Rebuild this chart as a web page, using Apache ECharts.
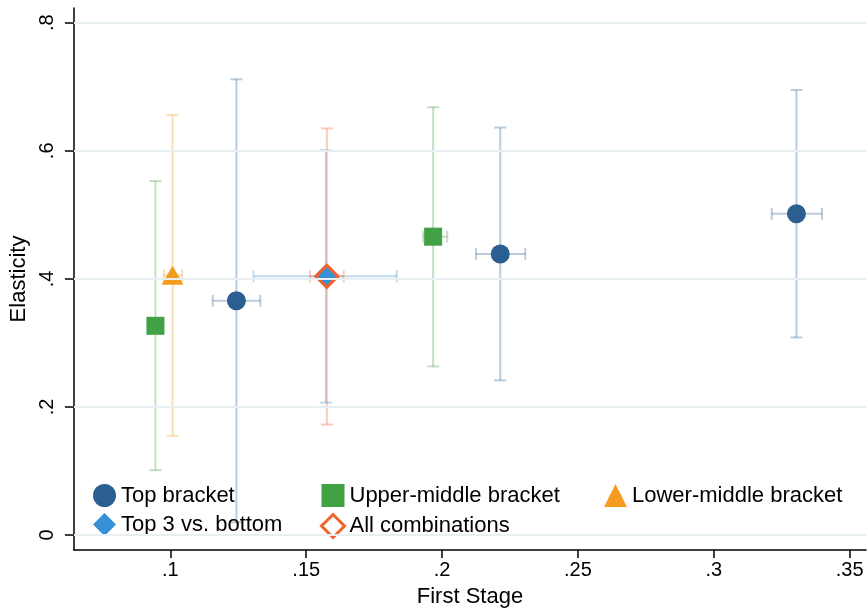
<!DOCTYPE html>
<html>
<head>
<meta charset="utf-8">
<title>Elasticity vs First Stage</title>
<script src="https://cdn.jsdelivr.net/npm/echarts@6/dist/echarts.min.js"></script>
<style>
  html, body { margin: 0; padding: 0; background: #fff; }
  #chart { width: 868px; height: 613px; }
</style>
</head>
<body>
<div id="chart"></div>
<script>
// each row: [firstStage, elasticity, xLow, xHigh, yLow, yHigh]
const topBracket = [
  [0.1243, 0.3657, 0.1156, 0.1331, 0.020, 0.7116],
  [0.2214, 0.4389, 0.2125, 0.2306, 0.2415, 0.6363],
  [0.3304, 0.5017, 0.3213, 0.3398, 0.3085, 0.6950]
];
const upperMiddle = [
  [0.0945, 0.3267, 0.0935, 0.0955, 0.1013, 0.5527],
  [0.1967, 0.4659, 0.1930, 0.2019, 0.2633, 0.6680]
];
const lowerMiddle = [
  [0.1008, 0.4055, 0.0976, 0.1043, 0.1549, 0.6560]
];
const top3VsBottom = [
  [0.1572, 0.4042, 0.1306, 0.1833, 0.2067, 0.6010]
];
const allCombinations = [
  [0.1576, 0.4040, 0.1514, 0.1638, 0.1725, 0.6350]
];

const xTicks = [0.1, 0.15, 0.2, 0.25, 0.3, 0.35];
const yTicks = [0, 0.2, 0.4, 0.6, 0.8];

const FONT = "Liberation Sans";

// Stata-style tick label: drop the leading zero
const stataLabel = (v) => {
  if (v === 0) return "0";
  return String(+v.toFixed(3)).replace(/^0\./, ".");
};

// draws the vertical and horizontal CI with caps
const makeCI = (name, data, color) => ({
  name: name,
  type: "custom",
  data: data,
  encode: { x: [0, 2, 3], y: [1, 4, 5] },
  silent: true,
  renderItem: (params, api) => {
    const c = api.coord([api.value(0), api.value(1)]);
    const top = api.coord([api.value(0), api.value(5)]);
    const bot = api.coord([api.value(0), api.value(4)]);
    const left = api.coord([api.value(2), api.value(1)]);
    const right = api.coord([api.value(3), api.value(1)]);
    const cap = 6;
    const style = { stroke: color, lineWidth: 2, opacity: 0.32 };
    const line = (x1, y1, x2, y2) => ({
      type: "line",
      shape: { x1: x1, y1: y1, x2: x2, y2: y2 },
      style: style
    });
    return {
      type: "group",
      children: [
        line(top[0], top[1], bot[0], bot[1]),
        line(top[0] - cap, top[1], top[0] + cap, top[1]),
        line(bot[0] - cap, bot[1], bot[0] + cap, bot[1]),
        line(left[0], c[1], right[0], c[1]),
        line(left[0], c[1] - cap, left[0], c[1] + cap),
        line(right[0], c[1] - cap, right[0], c[1] + cap)
      ]
    };
  }
});

const makePoints = (name, data, symbol, size, itemStyle) => ({
  name: name,
  type: "scatter",
  data: data.map((d) => [d[0], d[1]]),
  symbol: symbol,
  symbolSize: size,
  itemStyle: Object.assign({ opacity: 1 }, itemStyle),
  emphasis: { disabled: true }
});

const legendBase = {
  orient: "vertical",
  top: 479,
  itemGap: 6,
  itemWidth: 23,
  itemHeight: 23,
  selectedMode: false,
  textStyle: { fontFamily: FONT, fontSize: 22, color: "#000" }
};

const chart = echarts.init(document.getElementById("chart"));

const option = {
  backgroundColor: "#fff",
  animation: false,
  grid: { left: 73, right: 2, top: 8, bottom: 61 },
  xAxis: {
    type: "value",
    min: 0.0645,
    max: 0.356,
    name: "First Stage",
    nameLocation: "middle",
    nameGap: 36,
    nameTextStyle: { fontFamily: FONT, fontSize: 22, color: "#000" },
    axisLine: { onZero: false, lineStyle: { color: "#000", width: 1.5 } },
    axisTick: { customValues: xTicks, length: 8, lineStyle: { color: "#000", width: 1.5 } },
    axisLabel: {
      customValues: xTicks,
      formatter: stataLabel,
      margin: 10,
      fontFamily: FONT,
      fontSize: 20,
      color: "#000"
    },
    splitLine: { show: false }
  },
  yAxis: {
    type: "value",
    min: -0.0234,
    max: 0.823,
    name: "Elasticity",
    nameLocation: "middle",
    nameRotate: 90,
    nameGap: 43,
    nameTextStyle: { fontFamily: FONT, fontSize: 22, color: "#000" },
    axisLine: { show: true, onZero: false, lineStyle: { color: "#000", width: 1.5 } },
    axisTick: { show: true, customValues: yTicks, length: 9, lineStyle: { color: "#000", width: 1.5 } },
    axisLabel: {
      customValues: yTicks,
      formatter: stataLabel,
      rotate: 90,
      margin: 16,
      fontFamily: FONT,
      fontSize: 20,
      color: "#000"
    },
    splitLine: { show: false }
  },
  legend: [
    Object.assign({}, legendBase, {
      left: 88,
      data: ["Top bracket", "Top 3 vs. bottom"]
    }),
    Object.assign({}, legendBase, {
      left: 315,
      data: [
        "Upper-middle bracket",
        {
          name: "All combinations",
          itemStyle: { color: "rgba(0,0,0,0)", borderColor: "#f5612b", borderWidth: 3 }
        }
      ]
    }),
    Object.assign({}, legendBase, {
      left: 599,
      data: ["Lower-middle bracket"]
    })
  ],
  series: [
    {
      name: "grid",
      type: "line",
      data: [],
      silent: true,
      markLine: {
        silent: true,
        symbol: "none",
        label: { show: false },
        lineStyle: { color: "#e8eff2", type: "solid", width: 2 },
        data: yTicks.map((v) => ({ yAxis: v }))
      }
    },
    makeCI("ci-top", topBracket, "#2b5f91"),
    makePoints("Top bracket", topBracket, "circle", 19, { color: "#2b5f91" }),
    makeCI("ci-upper", upperMiddle, "#42a045"),
    makePoints("Upper-middle bracket", upperMiddle, "rect", 18, { color: "#42a045" }),
    makeCI("ci-lower", lowerMiddle, "#f39c1f"),
    makePoints("Lower-middle bracket", lowerMiddle, "triangle", [22, 19], { color: "#f39c1f" }),
    makeCI("ci-top3", top3VsBottom, "#3590d5"),
    makePoints("Top 3 vs. bottom", top3VsBottom, "diamond", 24, { color: "#3590d5" }),
    makeCI("ci-all", allCombinations, "#f5612b"),
    makePoints("All combinations", allCombinations, "diamond", 22, {
      color: "rgba(0,0,0,0)",
      borderColor: "#f5612b",
      borderWidth: 3
    })
  ]
};

chart.setOption(option);
</script>
</body>
</html>
